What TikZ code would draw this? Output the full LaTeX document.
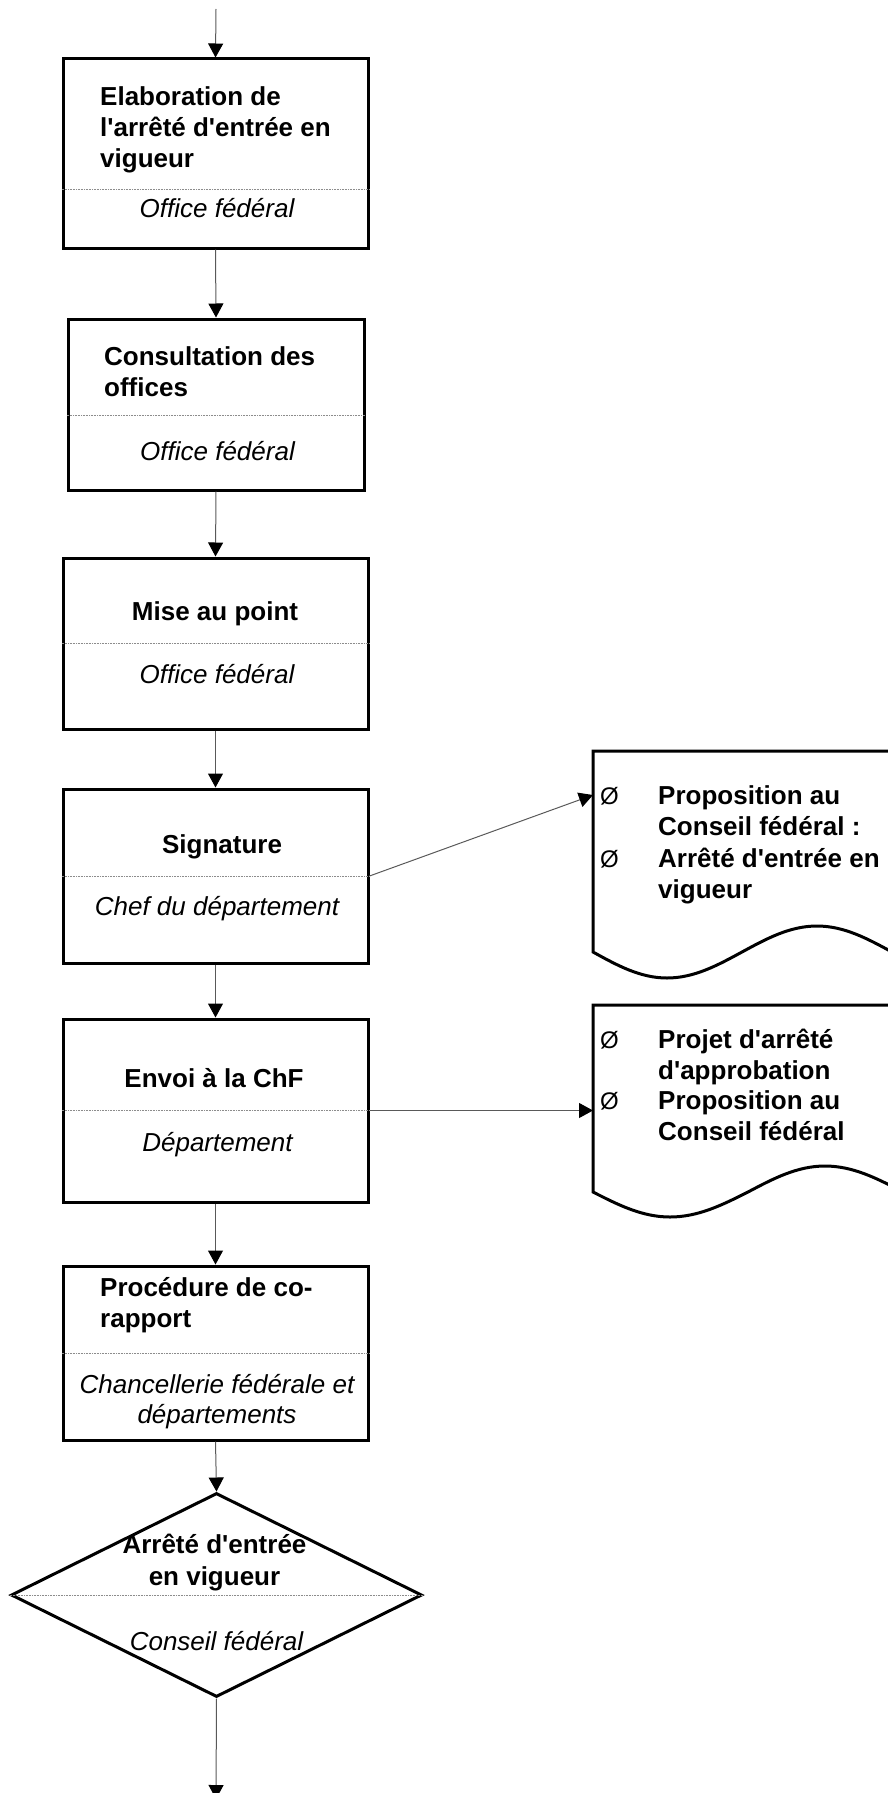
\documentclass[tikz,border=0pt]{standalone}
\usepackage{fontspec}
\setmainfont{Liberation Sans}[Ligatures=TeXOff]
\usetikzlibrary{arrows.meta,shapes.geometric}

% stacked lines whose baseline is that of the first line
\newcommand\stackl[2][l]{\begin{tabular}[t]{@{}#1@{}}#2\end{tabular}}

\begin{document}
\begin{tikzpicture}[x=1pt,y=-1pt,
  box/.style={rectangle,draw=black,line width=3pt,inner sep=0pt,minimum width=305pt},
  decision/.style={diamond,draw=black,line width=3pt,inner sep=0pt,minimum width=411pt,minimum height=204pt},
  divider/.style={draw=black!45,line width=0.9pt,dash pattern=on 1pt off 0.6pt},
  flow/.style={draw=black!65,line width=1pt,-{Triangle[length=14pt,width=15pt,color=black]}},
  docline/.style={draw=black,line width=3pt,line join=miter},
  title/.style={inner sep=0pt,font=\bfseries\fontsize{26}{31}\selectfont},
  titlec/.style={inner sep=0pt,font=\bfseries\fontsize{26}{32.5}\selectfont},
  actor/.style={inner sep=0pt,font=\itshape\fontsize{26}{30}\selectfont},
  bullet/.style={inner sep=0pt,font=\fontsize{24}{31}\selectfont},
]
\useasboundingbox (0,0) rectangle (888,1793);
\clip (0,0) rectangle (888,1793);

% process steps
\node[box,minimum width=305pt,minimum height=189pt] (b1) at (215.5,153.5) {};
\node[box,minimum width=296pt,minimum height=171pt] (b2) at (216,404.5) {};
\node[box,minimum height=171pt] (b3) at (215.5,643.5) {};
\node[box,minimum height=174pt] (b4) at (215.5,876) {};
\node[box,minimum height=183pt] (b5) at (215.5,1110.5) {};
\node[box,minimum height=174pt] (b6) at (215.5,1353) {};
\node[decision] (d7) at (216.5,1595) {};

% separators between step title and responsible unit
\draw[divider] ([yshift=-35.5pt]b1.west) -- ([yshift=-35.5pt]b1.east);
\draw[divider] ([yshift=-10.5pt]b2.west) -- ([yshift=-10.5pt]b2.east);
\draw[divider] (b3.west) -- (b3.east);
\draw[divider] (b4.west) -- (b4.east);
\draw[divider] (b5.west) -- (b5.east);
\draw[divider] (b6.west) -- (b6.east);
\draw[divider] (d7.west) -- (d7.east);

% step texts
\node[title,anchor=base west] (t1) at (100,105) {\stackl{Elaboration de\\l'arrêté d'entrée en\\vigueur}};
\node[actor,anchor=base] (a1) at (217,217) {Office fédéral};
\node[title,anchor=base west] (t2) at (104,365) {\stackl{Consultation des\\offices}};
\node[actor,anchor=base] (a2) at (217.5,460) {Office fédéral};
\node[title,anchor=base] (t3) at (215,620) {Mise au point};
\node[actor,anchor=base] (a3) at (217,683) {Office fédéral};
\node[title,anchor=base] (t4) at (222,853) {Signature};
\node[actor,anchor=base] (a4) at (217,915) {Chef du département};
\node[title,anchor=base] (t5) at (214,1087) {Envoi à la ChF};
\node[actor,anchor=base] (a5) at (217.5,1151) {Département};
\node[title,anchor=base west] (t6) at (100,1296) {\stackl{Procédure de co-\\rapport}};
\node[actor,anchor=base] (a6) at (217,1393) {\stackl[c]{Chancellerie fédérale et\\départements}};
\node[titlec,anchor=base] (t7) at (214.5,1553) {\stackl[c]{Arrêté d'entrée\\en vigueur}};
\node[actor,anchor=base] (a7) at (216.5,1650) {Conseil fédéral};

% documents
\draw[docline] (903,751) -- (593,751) -- (593,952)
  sin (667,978) cos (742,952) sin (817,926) cos (892,952);
\draw[docline] (903,1005) -- (593,1005) -- (593,1192)
  sin (670,1217) cos (748,1192) sin (825,1166) cos (903,1192);
\coordinate (doc1in) at (593,795);
\coordinate (doc2in) at (593,1110.5);

\node[bullet,anchor=base west] (o1) at (600,804) {Ø};
\node[title,anchor=base west] (p1) at (658,804) {\stackl{Proposition au\\Conseil fédéral :}};
\node[bullet,anchor=base west] (o2) at (600,867) {Ø};
\node[title,anchor=base west] (p2) at (658,867) {\stackl{Arrêté d'entrée en\\vigueur}};
\node[bullet,anchor=base west] (o3) at (600,1048) {Ø};
\node[title,anchor=base west] (p3) at (658,1048) {\stackl{Projet d'arrêté\\d'approbation}};
\node[bullet,anchor=base west] (o4) at (600,1109) {Ø};
\node[title,anchor=base west] (p4) at (658,1109) {\stackl{Proposition au\\Conseil fédéral}};

% connectors
\coordinate (in) at (216,9);
\coordinate (out) at (216,1799);
\draw[flow] (in) -- (b1.north);
\draw[flow] (b1.south) -- (b2.north);
\draw[flow] (b2.south) -- (b3.north);
\draw[flow] (b3.south) -- (b4.north);
\draw[flow] (b4.south) -- (b5.north);
\draw[flow] (b5.south) -- (b6.north);
\draw[flow] (b6.south) -- (d7.north);
\draw[flow] (d7.south) -- (out);
\draw[flow] (b4.east) -- (doc1in);
\draw[flow] (b5.east) -- (doc2in);
\end{tikzpicture}
\end{document}
